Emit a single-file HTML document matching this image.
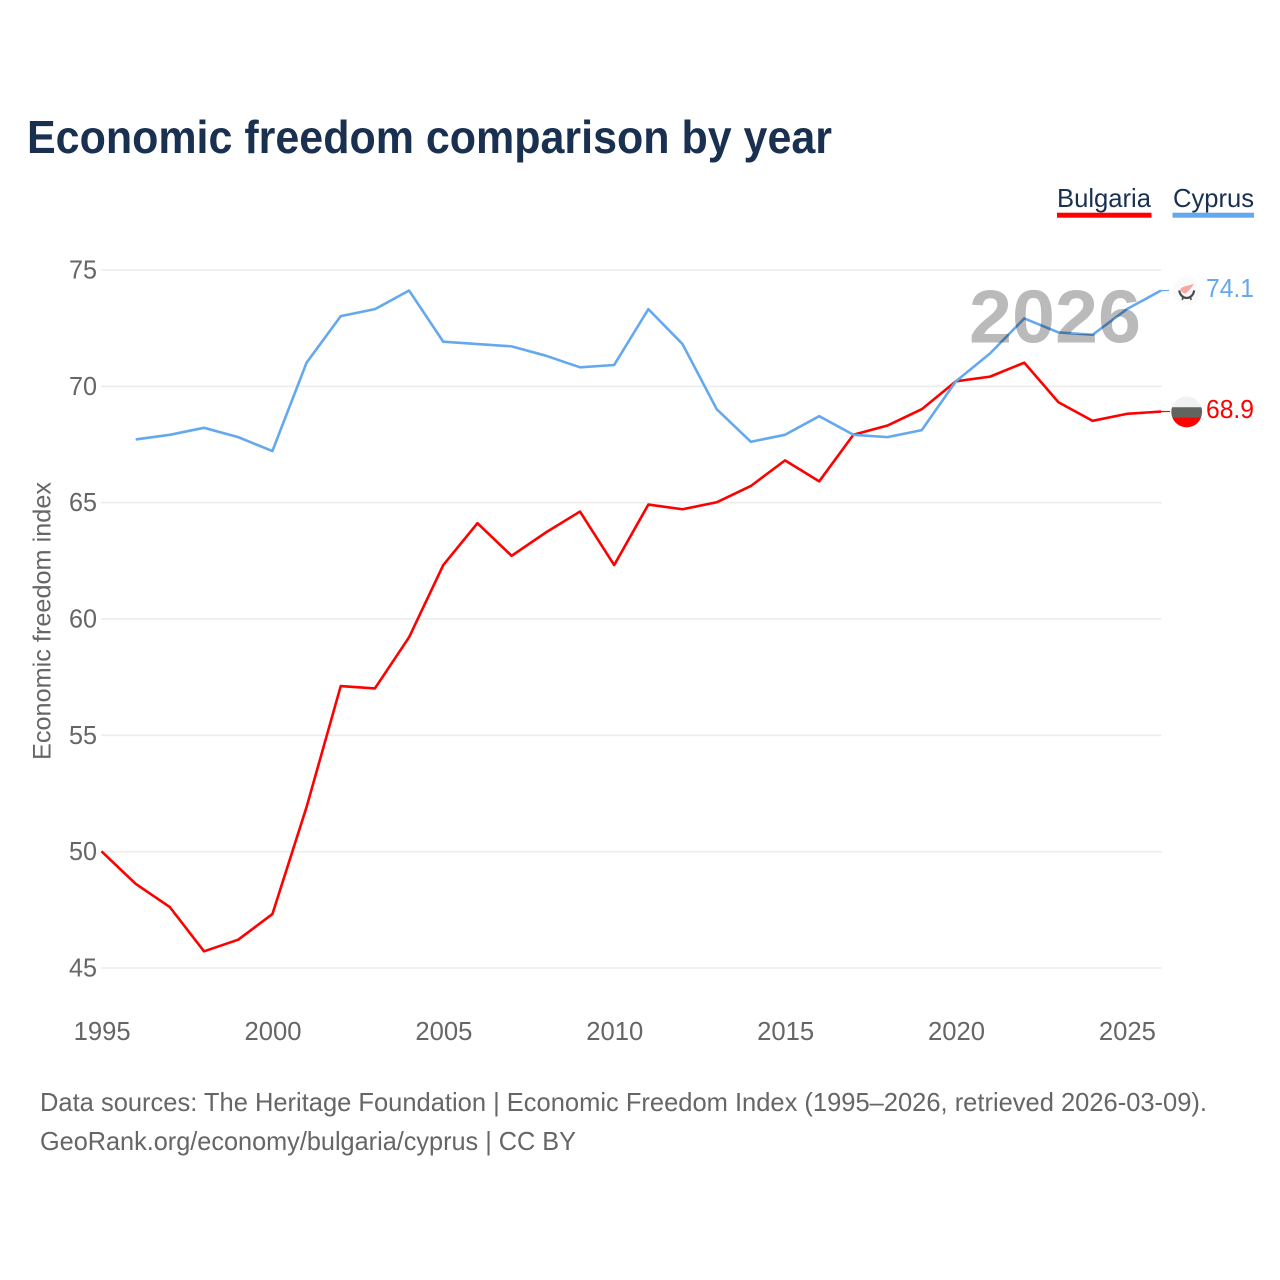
<!DOCTYPE html>
<html lang="en">
<head>
<meta charset="utf-8">
<title>Economic freedom comparison by year</title>
<style>
html,body{margin:0;padding:0;background:#fff}
svg{display:block}
text{font-family:"Liberation Sans",sans-serif}
</style>
</head>
<body>
<svg id="chart" width="1280" height="1280" viewBox="0 0 1280 1280" xmlns="http://www.w3.org/2000/svg">
  <rect x="0" y="0" width="1280" height="1280" fill="#ffffff"/>
  <text x="27" y="153" font-size="46" font-weight="700" fill="#1a3050" textLength="805" lengthAdjust="spacingAndGlyphs">Economic freedom comparison by year</text>

  <g>
    <g>
      <text x="1057" y="207" font-size="26" fill="#1a3050" textLength="94" lengthAdjust="spacingAndGlyphs">Bulgaria</text>
      <rect x="1057" y="212.7" width="94.500" height="5" fill="#ff0000"/>
    </g>
    <g>
      <text x="1173" y="207" font-size="26" fill="#1a3050" textLength="81" lengthAdjust="spacingAndGlyphs">Cyprus</text>
      <rect x="1172.500" y="212.7" width="81.500" height="5" fill="#64a8ee"/>
    </g>
  </g>

  <g id="grid"></g>
  <g id="y-axis"></g>
  <g id="x-axis"></g>
  <text transform="translate(50.500,621) rotate(-90)" text-anchor="middle" font-size="25" fill="#666666" textLength="278" lengthAdjust="spacingAndGlyphs">Economic freedom index</text>

  <g id="series"></g>
  <g id="endpoints"></g>

  <text x="969" y="342.500" font-size="75" font-weight="700" fill="#000000" fill-opacity="0.27" textLength="172" lengthAdjust="spacingAndGlyphs">2026</text>

  <text x="40" y="1111" font-size="26" fill="#666666" textLength="1167" lengthAdjust="spacingAndGlyphs">Data sources: The Heritage Foundation | Economic Freedom Index (1995–2026, retrieved 2026-03-09).</text>
  <text x="40" y="1150" font-size="26" fill="#666666" textLength="536" lengthAdjust="spacingAndGlyphs">GeoRank.org/economy/bulgaria/cyprus | CC BY</text>
</svg>

<script>
const years = [1995,1996,1997,1998,1999,2000,2001,2002,2003,2004,2005,2006,2007,2008,2009,2010,2011,2012,2013,2014,2015,2016,2017,2018,2019,2020,2021,2022,2023,2024,2025,2026];
const bulgariaValues = [50.0,48.6,47.6,45.7,46.2,47.3,51.9,57.1,57.0,59.2,62.3,64.1,62.7,63.7,64.6,62.3,64.9,64.7,65.0,65.7,66.8,65.9,67.9,68.3,69.0,70.2,70.4,71.0,69.3,68.5,68.8,68.9];
const cyprusValues = [null,67.7,67.9,68.2,67.8,67.2,71.0,73.0,73.3,74.1,71.9,71.8,71.7,71.3,70.8,70.9,73.3,71.8,69.0,67.6,67.9,68.7,67.9,67.8,68.1,70.2,71.4,72.9,72.3,72.2,73.3,74.1];
const yTicks = [45,50,55,60,65,70,75];
const xTicks = [1995,2000,2005,2010,2015,2020,2025];

const NS = 'http://www.w3.org/2000/svg';
const xScale = function (year) { return 101.5 + (year - 1995) * (1161 - 101.5) / 31; };
const yScale = function (value) { return 968 - (value - 45) * (968 - 270) / 30; };
const LINE_NUDGE = -0.4;

function make(tag, parent, attrs) {
  const el = document.createElementNS(NS, tag);
  Object.keys(attrs).forEach(function (k) { el.setAttribute(k, attrs[k]); });
  parent.appendChild(el);
  return el;
}

const grid = document.getElementById('grid');
const yAxis = document.getElementById('y-axis');
const xAxis = document.getElementById('x-axis');
const series = document.getElementById('series');
const endpoints = document.getElementById('endpoints');

yTicks.forEach(function (t) {
  const line = make('line', grid, { x1: 101, x2: 1161.5, y1: yScale(t), y2: yScale(t), stroke: '#ececec', 'stroke-width': 1.6 });
  
  
  const label = make('text', yAxis, { x: 97, y: yScale(t) + 8.5, 'text-anchor': 'end', 'font-size': 25.5, fill: '#666666', textLength: 28, lengthAdjust: 'spacingAndGlyphs' });
  label.textContent = t;
  
  
});

xTicks.forEach(function (t) {
  const label = make('text', xAxis, { x: xScale(t) + 0.6, y: 1040, 'text-anchor': 'middle', 'font-size': 25.5, fill: '#666666', textLength: 57, lengthAdjust: 'spacingAndGlyphs' });
  label.textContent = t;
  
  
});

function linePath(values) {
  const parts = [];
  values.forEach(function (v, i) {
    if (v === null) { return; }
    parts.push((parts.length ? 'L' : 'M') + xScale(years[i]).toFixed(2) + ' ' + (yScale(v) + LINE_NUDGE).toFixed(2));
  });
  return parts.join(' ');
}

const bulgariaLine = make('path', series, { d: linePath(bulgariaValues), fill: 'none', stroke: '#ff0000', 'stroke-width': 2.6, 'stroke-linejoin': 'round' });



const cyprusLine = make('path', series, { d: linePath(cyprusValues), fill: 'none', stroke: '#64a8ee', 'stroke-width': 2.6, 'stroke-linejoin': 'round' });



/* Bulgaria endpoint */
const bgY = yScale(bulgariaValues[bulgariaValues.length - 1]);
const bgTail = make('line', endpoints, { x1: 1161, x2: 1170, y1: bgY + LINE_NUDGE, y2: bgY + LINE_NUDGE, stroke: '#ff0000', 'stroke-width': 1.2 });



const defs = make('defs', endpoints, {});
const clip = make('clipPath', defs, { id: 'bg-clip' });
make('circle', clip, { cx: 0, cy: 0, r: 15.4 });

const bgFlag = make('g', endpoints, { transform: 'translate(1186.700,' + bgY + ')', 'clip-path': 'url(#bg-clip)' });


make('rect', bgFlag, { x: -16, y: -16, width: 32, height: 11.3, fill: '#f1f1f1' });
make('rect', bgFlag, { x: -16, y: -4.7, width: 32, height: 10.3, fill: '#62655f' });
make('rect', bgFlag, { x: -16, y: 5.6, width: 32, height: 11, fill: '#ff0000' });

const bgLabel = make('text', endpoints, { x: 1206, y: bgY + 6, 'font-size': 25.5, fill: '#ff0000', textLength: 48, lengthAdjust: 'spacingAndGlyphs' });
bgLabel.textContent = bulgariaValues[bulgariaValues.length - 1].toFixed(1);



/* Cyprus endpoint */
const cyY = yScale(cyprusValues[cyprusValues.length - 1]);
const cyTail = make('line', endpoints, { x1: 1161, x2: 1169, y1: cyY + LINE_NUDGE, y2: cyY + LINE_NUDGE, stroke: '#64a8ee', 'stroke-width': 1.2 });



const cyFlag = make('g', endpoints, { transform: 'translate(1186.700,' + cyY + ')' });


make('circle', cyFlag, { cx: 0, cy: 0, r: 14, fill: '#fafafa' });
make('path', cyFlag, { d: 'M-6.500 -2 C-4 -5 0 -4.500 7.500 -7.500 C5 -3.500 2.500 -0.500 -1 2.500 C-4 2.500 -6 0 -6.500 -2 Z', fill: '#f8a7a2' });
make('path', cyFlag, { d: 'M-7.500 -0.500 C-6.500 5 -3 7 0 7 C3 7 6.500 5 7.500 -0.500', fill: 'none', stroke: '#4a4a4a', 'stroke-width': 2.2 });
make('path', cyFlag, { d: 'M-3.500 6 L-4.500 9 M3.500 6 L4.500 9', fill: 'none', stroke: '#4a4a4a', 'stroke-width': 1.6 });

const cyLabel = make('text', endpoints, { x: 1206, y: cyY + 6, 'font-size': 25.5, fill: '#64a8ee', textLength: 48, lengthAdjust: 'spacingAndGlyphs' });
cyLabel.textContent = cyprusValues[cyprusValues.length - 1].toFixed(1);


</script>
</body>
</html>
